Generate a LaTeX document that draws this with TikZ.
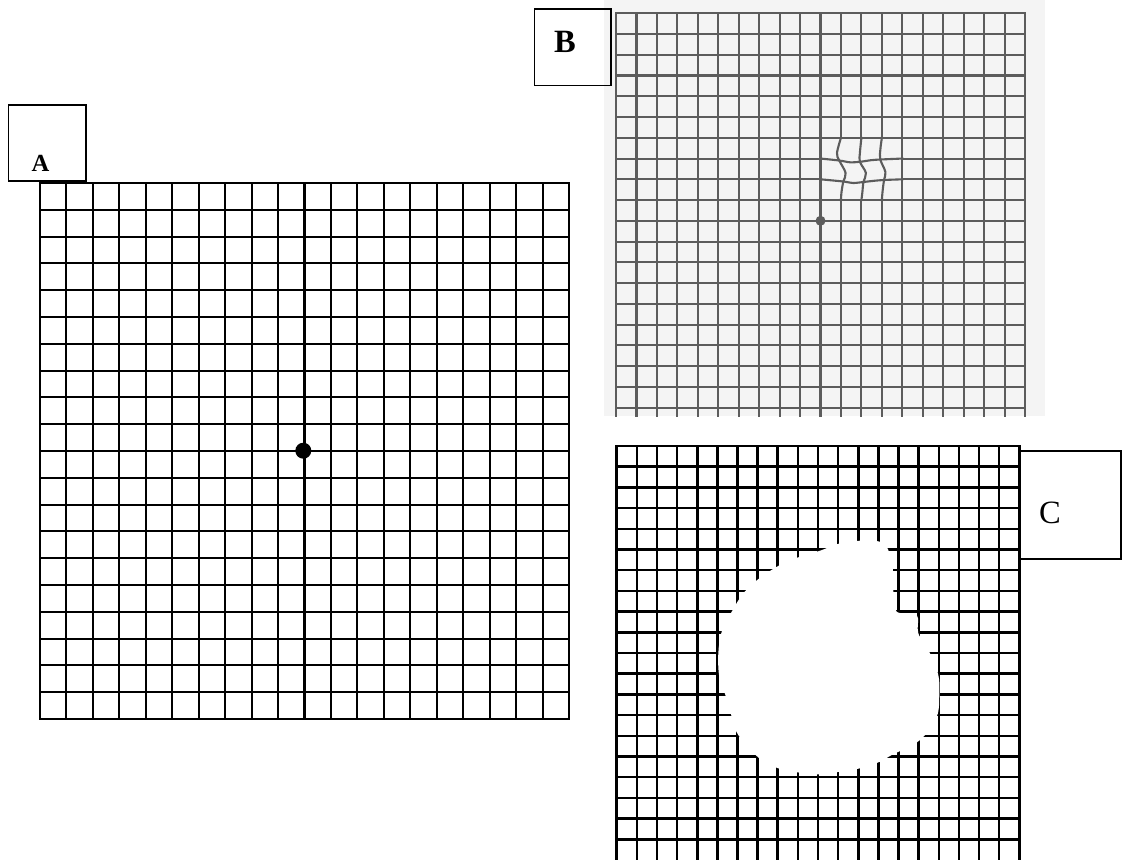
\documentclass[tikz,border=0pt]{standalone}
\usepackage{fontspec}
\setmainfont{Liberation Serif}
\usetikzlibrary{positioning}
\definecolor{paperB}{gray}{0.955}
\definecolor{inkB}{gray}{0.36}

\begin{document}
\begin{tikzpicture}[x=0.02cm, y=-0.02cm, every node/.style={font=\fontsize{18.5}{20}\selectfont, inner sep=0pt},
    gridA/.style={line width=1.15pt, line cap=rect},
    gridB/.style={inkB, line width=1.2pt, line cap=rect},
    gridC/.style={line width=1.45pt, line cap=rect},
    labelbox/.style={line width=0.75pt}]
    \useasboundingbox (0,0) rectangle (1131,859);
    % grid A
    \foreach \i in {0,...,20} {
        \draw[gridA] ({40+26.45*\i},183) -- ({40+26.45*\i},719);
        \draw[gridA] (40,{183+26.8*\i}) -- (569,{183+26.8*\i});
    }
    \fill (303.3,450.7) circle (8);
    \draw[labelbox] (8.3,105) rectangle (86,181);
    \node[font=\fontsize{14}{16}\selectfont\bfseries] (labA) at (40.5,163.5) {A};
    % grid B, distorted
    \fill[paperB] (604,0) rectangle (1045,416);
    \foreach \i in {0,...,20} {
        \draw[gridB] ({616+20.45*\i},13.3) -- ({616+20.45*\i},416);
    }
    \foreach \j in {0,...,19} {
        \draw[gridB] (616,{13.3+20.75*\j}) -- (1025,{13.3+20.75*\j});
    }
    \fill[paperB] (821.8,139) rectangle (901,198.8);
    \draw[gridB] plot[smooth, tension=0.6] coordinates {(840.95,137.8) (837,153) (839.25,160.5) (845.6,173) (843.3,181.5) (841.5,192) (840.95,200.05)};
    \draw[gridB] plot[smooth, tension=0.6] coordinates {(861.4,137.8) (859.9,153) (859.9,161.8) (865.9,173) (863.4,182) (862.4,192) (861.4,200.05)};
    \draw[gridB] plot[smooth, tension=0.6] coordinates {(881.85,137.8) (880.3,150) (880.3,159.5) (885.4,172) (884,180) (882.6,191) (881.85,200.05)};
    \draw[gridB] plot[smooth, tension=0.5] coordinates {(820.5,158.55) (839.25,160.5) (850,162.3) (859.9,161.8) (871,160.2) (880.3,159.5) (902.3,158.55)};
    \draw[gridB] plot[smooth, tension=0.5] coordinates {(820.5,179.3) (843.3,181.5) (853,183) (863.4,182) (874,180.8) (884,180) (902.3,179.3)};
    \fill[inkB] (820.5,220.8) circle (5);
    \draw[labelbox] (534.3,9) rectangle (611,85.7);
    \node[font=\fontsize{18.5}{20}\selectfont\bfseries] (labB) at (565,41.7) {B};
    % grid C, with scotoma
    \foreach \i in {0,...,20} {
        \draw[gridC] ({616.7+20.13*\i},446) -- ({616.7+20.13*\i},859);
    }
    \foreach \j in {0,...,19} {
        \draw[gridC] (616.7,{446+20.7*\j}) -- (1019.3,{446+20.7*\j});
    }
    \fill[white] plot[smooth cycle, tension=0.55] coordinates {
        (820,550.7) (800,556.7) (780,565) (759.3,578.3) (743.3,593.3) (731.7,611.7)
        (721.7,631.7) (718.3,653.3) (719.3,676.7) (726,696.7) (731.7,716.7) (738.3,735)
        (759.3,758.3) (778.3,768.3) (800,772.7) (820,774.3) (840,771.7) (860,768.3)
        (880,761.7) (891.7,755) (920,740) (936.7,716.7) (939.3,694.3) (938.3,675)
        (930,653.3) (918.3,633.3) (916.7,615) (896.7,611.7) (893.3,593.3) (893.3,573.3)
        (888.3,550) (880,541.7) (860,540.7) (840,543.3)};
    \draw[labelbox, line width=0.6pt] (1020,451) rectangle (1121,559);
    \node (labC) at (1050,513) {C};
\end{tikzpicture}
\end{document}
